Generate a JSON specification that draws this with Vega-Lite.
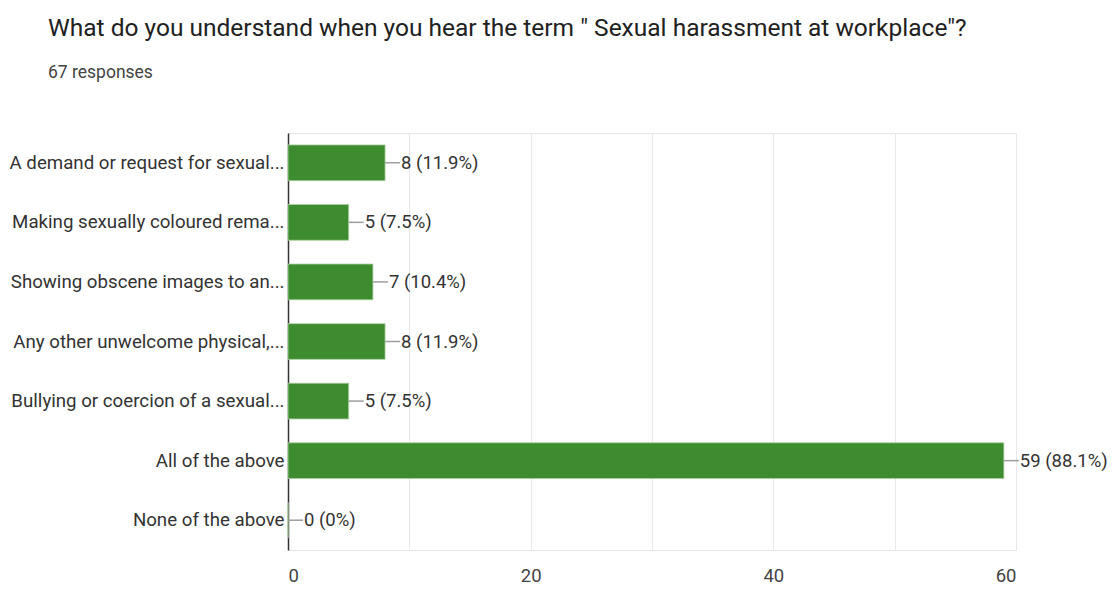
{
  "$schema": "https://vega.github.io/schema/vega-lite/v6.json",
  "autosize": "none",
  "width": 728,
  "height": 417,
  "padding": {"left": 288, "top": 133, "right": 97, "bottom": 39},
  "background": "white",
  "config": {
    "font": "Roboto",
    "view": {"stroke": "#e4e4e4"}
  },
  "title": {
    "text": "What do you understand when you hear the term \" Sexual harassment at workplace\"?",
    "subtitle": "67 responses",
    "anchor": "start",
    "frame": "group",
    "dx": -240,
    "offset": 51,
    "font": "Roboto",
    "fontSize": 24.5,
    "fontWeight": "normal",
    "color": "#212121",
    "subtitleFont": "Roboto",
    "subtitleFontSize": 17.5,
    "subtitleColor": "#444444",
    "subtitlePadding": 22
  },
  "data": {
    "values": [
      {"option": "A demand or request for sexual...", "count": 8, "label": "8 (11.9%)"},
      {"option": "Making sexually coloured rema...", "count": 5, "label": "5 (7.5%)"},
      {"option": "Showing obscene images to an...", "count": 7, "label": "7 (10.4%)"},
      {"option": "Any other unwelcome physical,...", "count": 8, "label": "8 (11.9%)"},
      {"option": "Bullying or coercion of a sexual...", "count": 5, "label": "5 (7.5%)"},
      {"option": "All of the above", "count": 59, "label": "59 (88.1%)"},
      {"option": "None of the above", "count": 0, "label": "0 (0%)"}
    ]
  },
  "encoding": {
    "y": {
      "field": "option",
      "type": "nominal",
      "sort": null,
      "title": null,
      "scale": {"paddingInner": 0.4, "paddingOuter": 0.2},
      "axis": {
        "domainColor": "#333333",
        "domainWidth": 1.5,
        "ticks": false,
        "labelPadding": 4,
        "labelFontSize": 18.7,
        "labelColor": "#333333",
        "labelLimit": 300
      }
    }
  },
  "layer": [
    {
      "mark": {"type": "bar", "color": "#3d8c2f", "stroke": "#a9cfa0", "strokeWidth": 0.8},
      "encoding": {
        "x": {
          "field": "count",
          "type": "quantitative",
          "title": null,
          "scale": {"domain": [0, 60], "nice": false},
          "axis": {
            "values": [0, 10, 20, 30, 40, 50, 60],
            "labelExpr": "datum.value % 20 === 0 ? datum.label : ''",
            "domain": false,
            "ticks": false,
            "gridColor": "#e8e8e8",
            "labelFontSize": 18.5,
            "labelColor": "#444444",
            "labelPadding": 16
          }
        }
      }
    },
    {
      "mark": {"type": "rule", "color": "#9e9e9e", "strokeWidth": 1.5, "x2Offset": 15},
      "encoding": {
        "x": {"field": "count", "type": "quantitative"},
        "x2": {"field": "count"}
      }
    },
    {
      "mark": {"type": "text", "align": "left", "baseline": "middle", "dx": 16, "fontSize": 18.5, "color": "#333333"},
      "encoding": {
        "x": {"field": "count", "type": "quantitative"},
        "text": {"field": "label"}
      }
    }
  ]
}
